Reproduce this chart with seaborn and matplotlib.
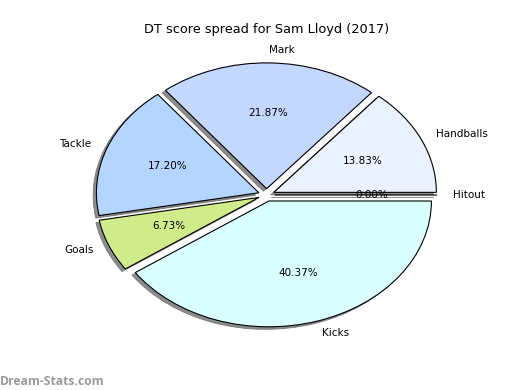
import matplotlib
matplotlib.use("Agg")
import matplotlib.pyplot as plt
import seaborn as sns

labels = ["Hitout", "Handballs", "Mark", "Tackle", "Goals", "Kicks"]
values = [0.00, 13.83, 21.87, 17.20, 6.73, 40.37]
colors = ["#e0ecff", "#ebf2ff", "#c4d8ff", "#b4d5ff", "#d0eb8a", "#d9ffff"]
explode = [0.05] * len(values)
title = "DT score spread for Sam Lloyd (2017)"
watermark = "Dream-Stats.com"

sns.set_theme(style="white")
plt.rcParams['font.family'] = ['DejaVu Sans']

fig = plt.figure(figsize=(5.2, 3.9), dpi=100)
ax = fig.add_axes([0.125, 0.1, 0.775, 0.8])
wedges, texts, autotexts = ax.pie(
    values, labels=labels, colors=colors, explode=explode,
    shadow=dict(ox=-0.0144, oy=-0.0144, facecolor="#8c8c8c",
                edgecolor="#777777", alpha=1.0, linewidth=0.6),
    autopct="%1.2f%%", startangle=0,
    wedgeprops=dict(edgecolor="black", linewidth=0.8),
    textprops=dict(fontsize=7.5, color="black"))
ax.set_aspect("auto")
ax.set_xlim(-1.24, 1.24)
ax.set_ylim(-1.24, 1.24)
ax.axis("off")
ax.set_title(title, fontsize=9.3, color="black", pad=4)
fig.text(0.0, 0.006, watermark, fontsize=8.7, color="#9a9a9a", fontweight="bold",
         family=["Open Sans", "DejaVu Sans"], ha="left", va="bottom")
fig.savefig("out.png", dpi=100, facecolor="white")
